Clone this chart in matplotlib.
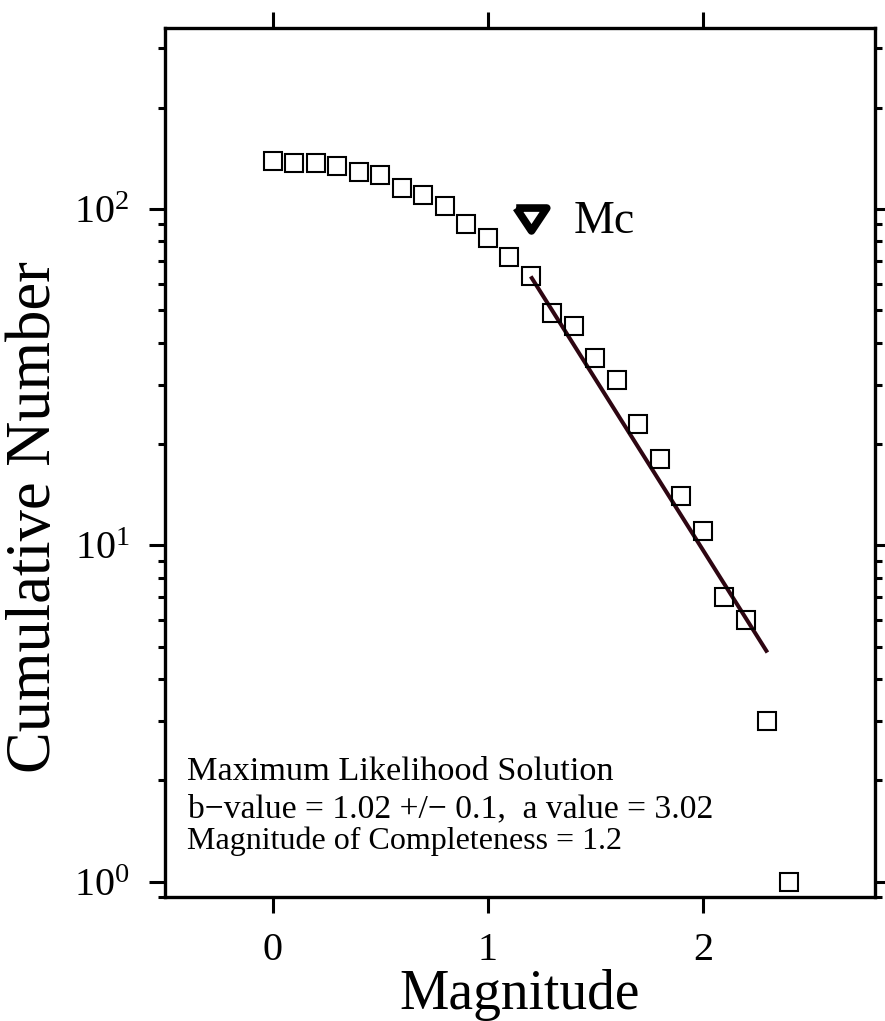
import matplotlib
matplotlib.use('Agg')
import matplotlib.pyplot as plt
from matplotlib.ticker import FixedLocator, NullLocator, NullFormatter, LogLocator

plt.rcParams['font.family'] = ['Liberation Serif', 'DejaVu Serif']
plt.rcParams['mathtext.fontset'] = 'custom'
plt.rcParams['mathtext.rm'] = 'Liberation Serif'
plt.rcParams['mathtext.it'] = 'Liberation Serif:italic'
plt.rcParams['mathtext.bf'] = 'Liberation Serif:bold'

# cumulative frequency-magnitude distribution
magnitude = [0.0, 0.1, 0.2, 0.3, 0.4, 0.5, 0.6, 0.7, 0.8, 0.9, 1.0, 1.1, 1.2,
             1.3, 1.4, 1.5, 1.6, 1.7, 1.8, 1.9, 2.0, 2.1, 2.2, 2.3, 2.4]
cum_number = [139, 137, 137, 134, 129, 126, 115, 110, 102, 90, 82, 72, 63,
              49, 45, 36, 31, 23, 18, 14, 11, 7, 6, 3, 1]

# max likelihood fit line (end points)
fit_mag = [1.2, 2.3]
fit_num = [63, 4.8]

# magnitude of completeness marker
mc_mag = 1.2
mc_y = 93

info_lines = ["Maximum Likelihood Solution",
              "b\u2212value = 1.02 +/\u2212 0.1,  a value = 3.02",
              "Magnitude of Completeness = 1.2"]

fig = plt.figure(figsize=(8.85, 10.21), dpi=100)
ax = fig.add_axes([0.1864, 0.1214, 0.8023, 0.8512])

ax.plot(fit_mag, fit_num, color='#2e0612', lw=2.9, solid_capstyle='butt', zorder=2)
ax.plot(magnitude, cum_number, 's', ms=13.3, mfc='none', mec='black', mew=1.5, zorder=3)

tri = [(-1, 0.75), (1, 0.75), (0, -0.75), (-1, 0.75)]
ax.plot([mc_mag], [mc_y], marker=tri, ms=22, mfc='white', mec='black', mew=5.5, zorder=4)
ax.text(1.40, 84.8, "Mc", fontsize=33, ha='left', va='baseline')

ax.text(0.031, 0.1346, info_lines[0], transform=ax.transAxes, fontsize=24.7, va='baseline')
ax.text(0.033, 0.092, info_lines[1], transform=ax.transAxes, fontsize=24.2, va='baseline')
ax.text(0.031, 0.055, info_lines[2], transform=ax.transAxes, fontsize=23, va='baseline')

ax.set_yscale('log')
ax.set_xlim(-0.5, 2.8)
ax.set_ylim(0.9, 345)

ax.xaxis.set_major_locator(FixedLocator([0, 1, 2]))
ax.xaxis.set_minor_locator(NullLocator())
ax.yaxis.set_major_locator(LogLocator(base=10, numticks=10))
ax.yaxis.set_minor_locator(LogLocator(base=10, subs=[2, 3, 4, 5, 6, 7, 8, 9], numticks=20))
ax.yaxis.set_minor_formatter(NullFormatter())

ax.tick_params(which='both', direction='out', top=True, right=True, width=2.2)
ax.tick_params(which='major', length=11.5, labelsize=29, pad=14)
ax.tick_params(which='minor', length=5)
for s in ax.spines.values():
    s.set_linewidth(2.4)

ax.set_xlabel("Magnitude", fontsize=40, labelpad=0)
ax.set_ylabel("Cumulative Number", fontsize=45)
ax.yaxis.set_label_coords(-0.142, 0.437)

fig.savefig('out.png', dpi=100)
